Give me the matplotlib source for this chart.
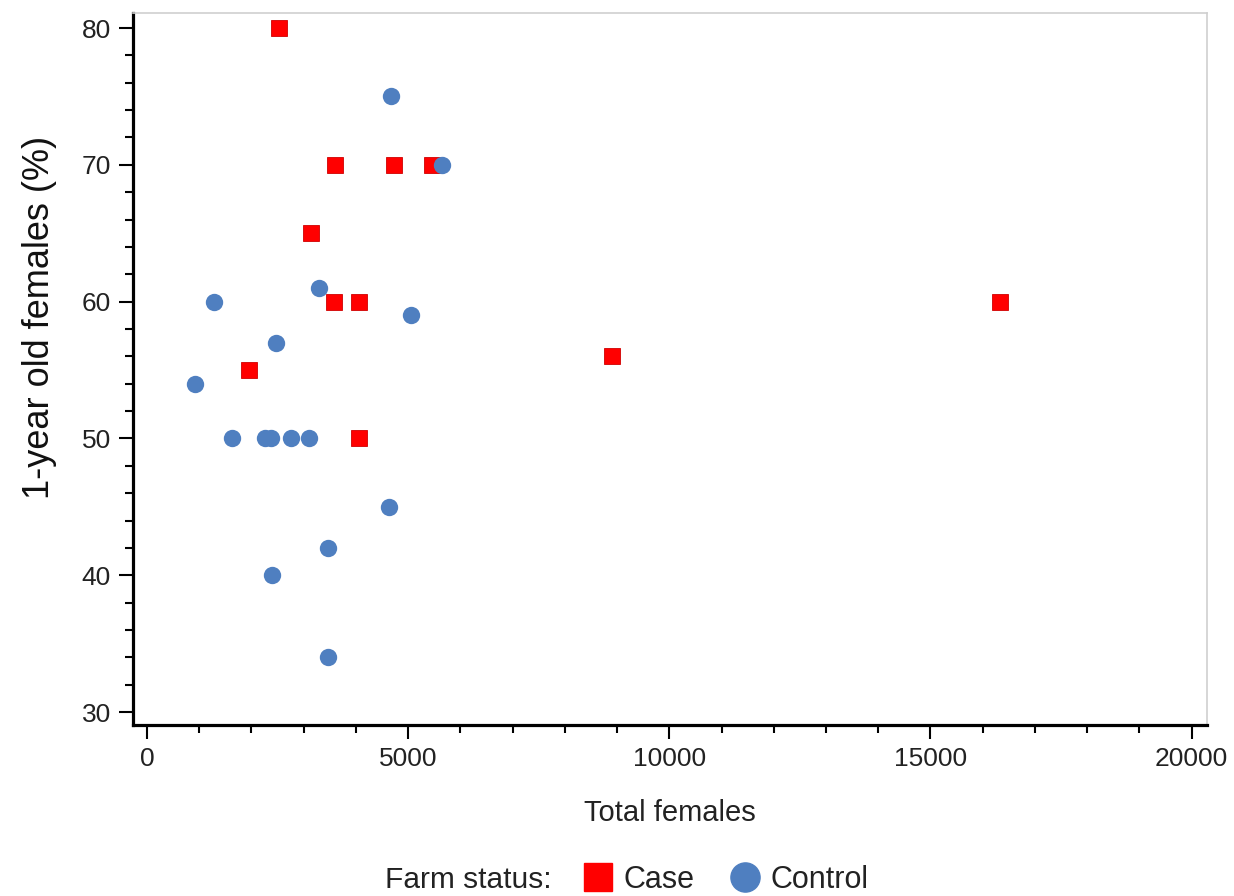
import matplotlib
matplotlib.use("Agg")
import matplotlib.pyplot as plt
from matplotlib.lines import Line2D
from matplotlib.ticker import MultipleLocator

plt.rcParams['font.family'] = ['Liberation Sans', 'DejaVu Sans']

# farm data
case_total = [2530, 3600, 4730, 5450, 3140, 3580, 4060, 16330, 1950, 8900, 4060]
case_pct = [80, 70, 70, 70, 65, 60, 60, 60, 55, 56, 50]

control_total = [4680, 5640, 1290, 3290, 5050, 2470, 920, 1630, 2250, 2370, 2760, 3100,
                 4630, 3460, 2390, 3460]
control_pct = [75, 70, 60, 61, 59, 57, 54, 50, 50, 50, 50, 50, 45, 42, 40, 34]

red = "#FF0000"
blue = "#4F7FC0"

fig = plt.figure(figsize=(12.34, 8.96), dpi=100)
ax = fig.add_axes([0.1078, 0.1908, 0.8700, 0.7947])

ax.plot(case_total, case_pct, 's', color=red, markersize=12, markeredgecolor="#D00000",
        markeredgewidth=0.6, zorder=3)
ax.plot(control_total, control_pct, 'o', color=blue, markersize=12.5, markeredgewidth=0, zorder=3)

ax.set_xlim(-268, 20287)
ax.set_ylim(29.05, 81.1)
ax.xaxis.set_major_locator(MultipleLocator(5000))
ax.xaxis.set_minor_locator(MultipleLocator(1000))
ax.yaxis.set_major_locator(MultipleLocator(10))
ax.yaxis.set_minor_locator(MultipleLocator(2))

for side in ['left', 'bottom']:
    ax.spines[side].set_color('black')
    ax.spines[side].set_linewidth(2.3)
for side in ['top', 'right']:
    ax.spines[side].set_color('#CFCFCF')
    ax.spines[side].set_linewidth(1.2)

ax.tick_params(which='major', direction='out', length=10, width=1.5, labelsize=19,
               labelcolor='#222222', pad=6)
ax.tick_params(which='minor', direction='out', length=5.5, width=1.5)
ax.tick_params(top=False, right=False, which='both')

ax.set_xlabel("Total females", fontsize=21, color='#222222', labelpad=20)
ax.set_ylabel("1-year old females (%)", fontsize=26, color='#111111')
ax.yaxis.set_label_coords(-0.0708, 0.572)

fig.text(385 / 1234, 16 / 896, "Farm status:", fontsize=21.5, color='#222222',
         ha='left', va='center')
handles = [
    Line2D([], [], linestyle='none', marker='s', markersize=20, color=red),
    Line2D([], [], linestyle='none', marker='o', markersize=21, color=blue),
]
fig.legend(handles, ["Case", "Control"], loc='center left', bbox_to_anchor=(567 / 1234, 16 / 896),
           ncol=2, frameon=False, fontsize=22, handlelength=1.0, handletextpad=0.35,
           columnspacing=1.15, borderpad=0, labelcolor='#222222')

fig.savefig("out.png", dpi=100)
